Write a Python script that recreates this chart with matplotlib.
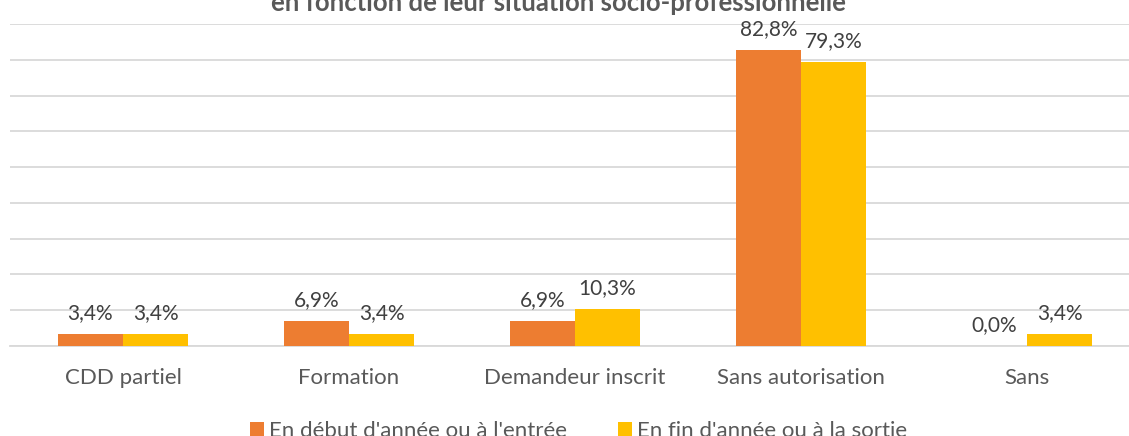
import matplotlib
matplotlib.use('Agg')
import matplotlib.pyplot as plt
import numpy as np

categories = ['CDD partiel', 'Formation', 'Demandeur inscrit', 'Sans autorisation', 'Sans']
debut = [3.4, 6.9, 6.9, 82.8, 0.0]
fin = [3.4, 3.4, 10.3, 79.3, 3.4]
series_names = ["En début d'année ou à l'entrée", "En fin d'année ou à la sortie"]
title = 'en fonction de leur situation socio-professionnelle'

plt.rcParams['font.family'] = ['Lato', 'DejaVu Sans']

W, H = 1129, 436
fig = plt.figure(figsize=(W / 100, H / 100), dpi=100)
# axes spill over the right edge, like the cropped original
ax = fig.add_axes([10 / W, (H - 346) / H, 1130 / W, (346 - 24) / H])

x = np.arange(len(categories))
bw = 0.288
b1 = ax.bar(x - bw / 2, debut, bw, color='#ED7D31', label=series_names[0], zorder=3)
b2 = ax.bar(x + bw / 2, fin, bw, color='#FFC000', label=series_names[1], zorder=3)

for bars, vals in ((b1, debut), (b2, fin)):
    for rect, v in zip(bars, vals):
        ax.annotate(f'{v:.1f}%'.replace('.', ','),
                    (rect.get_x() + rect.get_width() / 2, rect.get_height()),
                    xytext=(0, 8), textcoords='offset points',
                    ha='center', va='bottom', fontsize=15, color='#404040')

ax.set_xlim(-0.5, len(categories) - 0.5)
ax.set_ylim(0, 90)
ax.set_yticks(np.arange(0, 91, 10))
ax.yaxis.grid(True, color='#D9D9D9', linewidth=1.3, zorder=0)
ax.tick_params(axis='y', left=False, labelleft=False)
ax.tick_params(axis='x', length=0, pad=16, labelsize=16, labelcolor='#595959')
ax.set_xticks(x)
ax.set_xticklabels(categories)
for s in ['top', 'right', 'left']:
    ax.spines[s].set_visible(False)
ax.spines['bottom'].set_color('#D9D9D9')
ax.spines['bottom'].set_linewidth(1.3)

fig.text(558 / W, 1 - 3 / H, title, ha='center', va='center',
         fontsize=18.5, fontweight='bold', color='#595959')

fig.legend(handles=[b1, b2], labels=series_names, loc='center',
           bbox_to_anchor=(579 / W, 1 - 431 / H), ncol=2, frameon=False,
           fontsize=16, labelcolor='#595959', handlelength=0.6, handleheight=0.6,
           handletextpad=0.25, columnspacing=2.3)

fig.savefig('out.png', dpi=100)
